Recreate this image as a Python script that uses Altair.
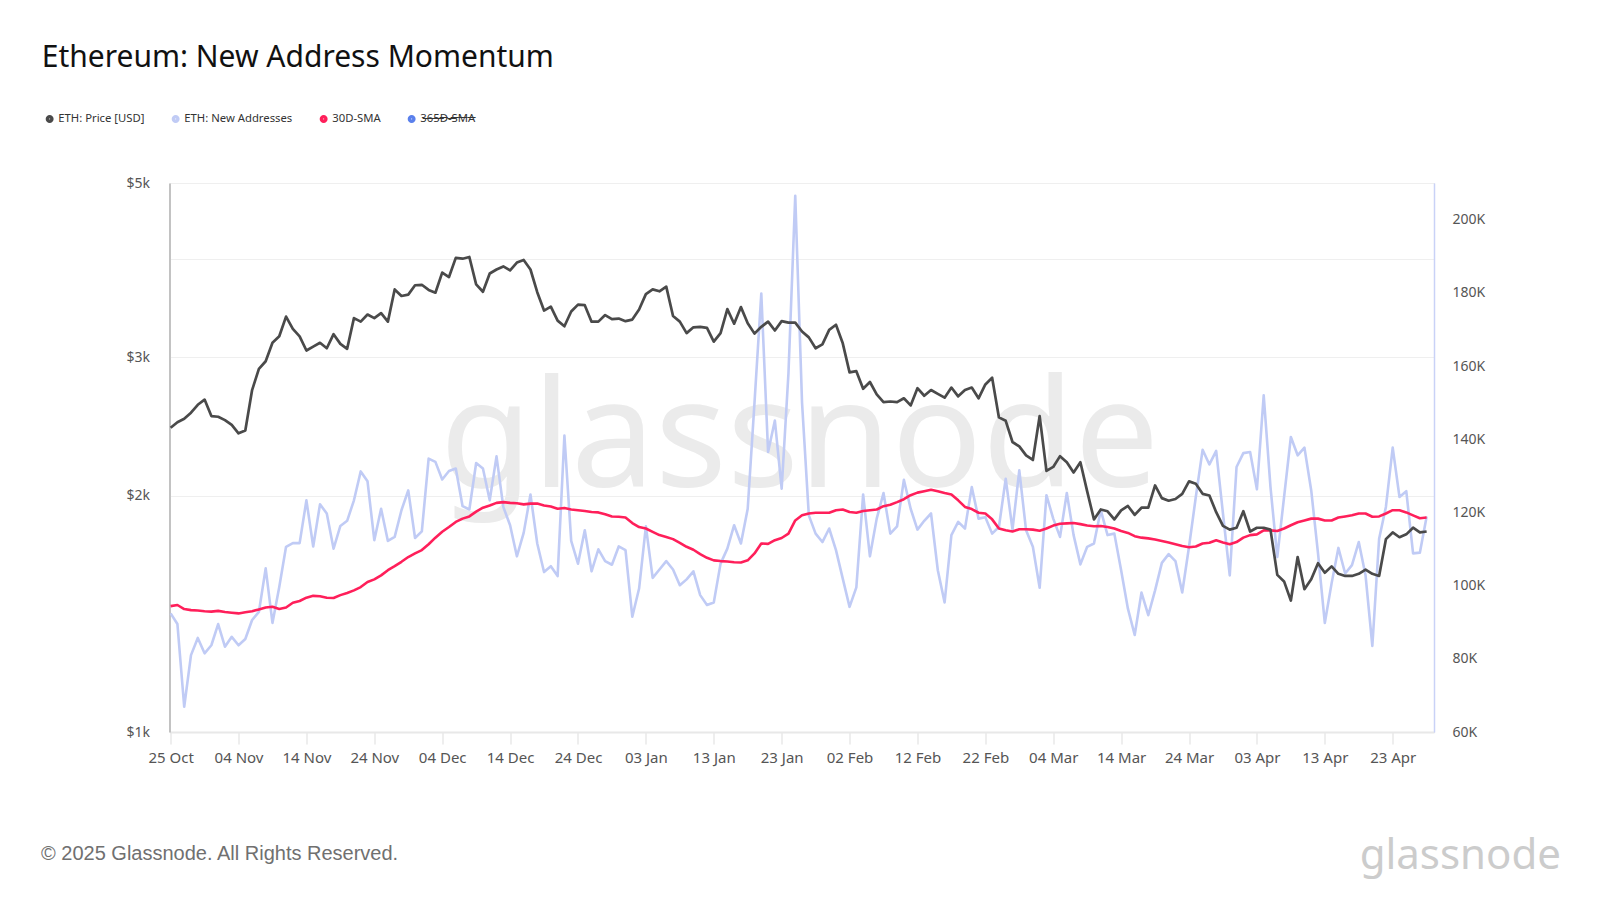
import altair as alt
import pandas as pd

# ---------------- data ----------------
start = pd.Timestamp("2024-10-25")
n_days = 186
dates = [(start + pd.Timedelta(days=i)).strftime("%Y-%m-%d") for i in range(n_days)]

price_usd = [
    2440, 2480, 2505, 2550, 2610, 2650, 2525, 2520, 2495, 2460,
    2400, 2420, 2725, 2900, 2965, 3130, 3190, 3380, 3260, 3190,
    3060, 3095, 3130, 3080, 3210, 3120, 3075, 3365, 3330, 3400,
    3365, 3415, 3330, 3660, 3590, 3605, 3705, 3710, 3655, 3625,
    3845, 3795, 4015, 4005, 4025, 3715, 3635, 3835, 3880, 3915,
    3870, 3960, 3990, 3880, 3630, 3440, 3480, 3340, 3285, 3430,
    3500, 3495, 3330, 3330, 3395, 3355, 3360, 3335, 3350, 3450,
    3610, 3660, 3640, 3690, 3385, 3330, 3220, 3275, 3280, 3270,
    3140, 3220, 3455, 3310, 3475, 3315, 3215, 3280, 3330, 3245,
    3335, 3320, 3320, 3235, 3180, 3080, 3115, 3250, 3300, 3125,
    2870, 2880, 2735, 2790, 2690, 2630, 2635, 2630, 2660, 2605,
    2740, 2680, 2725, 2695, 2665, 2745, 2675, 2725, 2745, 2660,
    2770, 2825, 2515, 2490, 2340, 2310, 2250, 2220, 2525, 2150,
    2175, 2245, 2205, 2140, 2205, 2025, 1865, 1920, 1910, 1865,
    1915, 1940, 1890, 1930, 1930, 2060, 1985, 1970, 1980, 2010,
    2085, 2070, 2010, 2000, 1905, 1830, 1810, 1820, 1910, 1800,
    1820, 1820, 1810, 1585, 1555, 1470, 1670, 1520, 1565, 1640,
    1595, 1625, 1590, 1580, 1580, 1590, 1610, 1590, 1580, 1760,
    1795, 1770, 1785, 1820, 1795, 1800,
]

new_addresses_k = [
    92.4, 89.5, 66.9, 81.0, 85.7, 81.5, 83.7, 89.5, 83.3, 86.0,
    83.7, 85.4, 90.6, 92.8, 104.7, 89.8, 99.6, 110.6, 111.6, 111.6,
    123.3, 110.7, 122.2, 119.7, 110.1, 116.3, 117.7, 123.3, 131.2, 128.5,
    112.4, 121.0, 112.2, 113.3, 120.6, 126.0, 113.0, 114.8, 134.7, 133.8,
    129.0, 131.3, 132.0, 121.7, 120.8, 133.5, 132.0, 123.3, 135.3, 121.5,
    116.5, 108.0, 114.4, 124.9, 111.5, 103.7, 105.3, 102.6, 141.0, 112.2,
    106.0, 115.1, 103.9, 109.9, 106.7, 105.7, 110.7, 109.7, 91.5, 99.2,
    116.2, 102.1, 104.4, 106.7, 104.4, 100.1, 101.7, 103.9, 97.4, 94.7,
    95.4, 106.0, 110.1, 116.5, 111.5, 121.0, 150.0, 179.8, 136.5, 145.1,
    126.5, 158.0, 206.5, 150.0, 119.2, 114.2, 111.9, 115.6, 109.7, 101.9,
    94.2, 99.5, 124.9, 108.0, 118.3, 125.3, 114.2, 116.2, 128.9, 121.0,
    115.3, 117.7, 119.7, 104.2, 95.4, 113.8, 117.4, 115.6, 126.9, 118.3,
    118.7, 114.2, 116.0, 129.2, 115.3, 131.5, 115.1, 110.6, 99.4, 124.7,
    118.3, 113.3, 125.3, 113.8, 105.8, 110.6, 111.5, 120.6, 113.8, 114.2,
    104.2, 93.7, 86.5, 98.1, 91.9, 98.7, 106.2, 108.6, 106.7, 98.1,
    110.6, 124.2, 137.1, 133.1, 136.8, 119.7, 102.8, 132.4, 136.2, 136.5,
    126.3, 152.0, 126.9, 107.8, 124.2, 140.6, 135.6, 137.7, 126.0, 108.8,
    89.8, 100.6, 110.3, 103.3, 105.6, 111.9, 102.8, 83.5, 112.8, 121.5,
    137.7, 124.2, 125.8, 108.8, 109.0, 118.9,
]

sma30_k = [
    94.4, 94.7, 93.6, 93.3, 93.2, 93.0, 92.9, 93.1, 92.8, 92.6,
    92.4, 92.7, 93.0, 93.5, 94.0, 94.2, 93.6, 94.0, 95.3, 95.8,
    96.7, 97.2, 97.1, 96.7, 96.6, 97.4, 98.0, 98.7, 99.6, 101.0,
    101.7, 102.8, 104.2, 105.3, 106.5, 107.8, 108.8, 109.7, 111.3, 113.1,
    114.7, 116.0, 117.4, 118.3, 118.9, 120.2, 121.3, 121.9, 122.6, 122.8,
    122.6, 122.5, 122.2, 122.4, 122.4, 121.9, 121.6, 121.0, 121.2, 120.8,
    120.6, 120.4, 120.1, 120.0, 119.5, 118.9, 118.8, 118.6, 117.1, 116.0,
    115.6, 114.7, 113.8, 113.3, 112.7, 111.7, 110.6, 109.8, 108.6, 107.6,
    106.9, 106.7, 106.6, 106.4, 106.3, 106.9, 108.8, 111.5, 111.4, 112.4,
    113.0, 114.2, 117.8, 119.2, 119.7, 119.9, 119.9, 119.9, 120.6, 120.8,
    120.1, 119.9, 120.4, 120.6, 120.8, 121.7, 122.1, 122.8, 123.6, 124.7,
    125.4, 125.8, 126.2, 125.8, 125.3, 124.9, 123.3, 121.5, 120.9, 119.9,
    119.7, 118.1, 115.6, 115.1, 114.8, 115.4, 115.4, 115.3, 115.0, 115.6,
    116.4, 116.9, 117.0, 117.1, 116.8, 116.4, 116.2, 116.3, 116.0, 115.6,
    114.9, 114.4, 113.5, 113.1, 112.9, 112.6, 112.2, 111.8, 111.3, 110.8,
    110.5, 110.7, 111.5, 111.7, 112.4, 111.8, 111.3, 111.9, 113.1, 113.8,
    114.0, 115.1, 115.1, 114.9, 115.6, 116.5, 117.3, 117.8, 118.3, 118.3,
    117.8, 117.8, 118.6, 118.9, 119.2, 119.7, 119.7, 118.8, 118.9, 119.7,
    120.6, 120.6, 120.0, 119.2, 118.4, 118.6,
]

series_names = ["ETH: Price [USD]", "ETH: New Addresses", "30D-SMA", "365D-SMA"]
series_colors = ["#4a4a4a", "#c0cbf5", "#ff1f5a", "#5a80ec"]

tick_dates = [start + pd.Timedelta(days=10 * k) for k in range(19)]
price_ticks = [1000, 2000, 3000, 4000, 5000]
addr_ticks = [60000, 80000, 100000, 120000, 140000, 160000, 180000, 200000]

# ---------------- tables ----------------
price_df = pd.DataFrame({"date": dates, "value": price_usd, "series": series_names[0]})
addr_df = pd.DataFrame({"date": dates, "value": [v * 1000 for v in new_addresses_k], "series": series_names[1]})
sma_df = pd.DataFrame({"date": dates, "value": [v * 1000 for v in sma30_k], "series": series_names[2]})

FONT = "Noto Sans"
struck = "".join(ch + "\u0336" for ch in "365D-SMA")

def dt(ts, hours=0):
    return alt.DateTime(year=ts.year, month=ts.month, date=ts.day, hours=hours, utc=True)

x_enc = alt.X(
    "date:T",
    scale=alt.Scale(
        type="utc",
        domain=[alt.DateTime(year=2024, month=10, date=24, hours=20, utc=True),
                alt.DateTime(year=2025, month=4, date=29, hours=2, utc=True)],
    ),
    axis=alt.Axis(
        title=None, values=[dt(t) for t in tick_dates],
        labelExpr="utcFormat(datum.value, '%d %b')",
        grid=False, tickSize=12, tickColor="#e8e8e8", tickWidth=1.5,
        domainColor="#e8e8e8", domainWidth=2, labelFont=FONT, labelFontSize=15,
        labelColor="#555555", labelPadding=6, labelFlush=False, labelOverlap=False,
    ),
)

color_enc = alt.Color(
    "series:N",
    scale=alt.Scale(domain=series_names, range=series_colors),
    legend=alt.Legend(
        title=None, orient="none", legendX=-125.5, legendY=-70, direction="horizontal",
        symbolType="circle", symbolSize=12, symbolStrokeWidth=4.5, symbolOpacity=1,
        labelFont=FONT, labelFontSize=11.3, labelColor="#333333", labelOffset=3,
        columnPadding=19, padding=0,
        labelExpr="datum.label == '365D-SMA' ? '" + struck + "' : datum.label",
    ),
)

price_line = alt.Chart(price_df).mark_line(strokeWidth=2.7, strokeJoin="round").encode(
    x=x_enc,
    y=alt.Y(
        "value:Q",
        scale=alt.Scale(type="log", domain=[1000, 5000], nice=False),
        axis=alt.Axis(
            orient="left", title=None, values=price_ticks,
            labelExpr="datum.value == 4000 ? '' : '$' + format(datum.value / 1000, 'd') + 'k'",
            grid=True, gridColor="#efefef", gridWidth=1.2, ticks=False,
            domainColor="#a6a6a6", domainWidth=1.2, labelFont=FONT, labelFontSize=14,
            labelColor="#555555", labelPadding=20,
        ),
    ),
    color=color_enc,
)

right_axis = alt.Axis(
    orient="right", title=None, values=addr_ticks,
    labelExpr="format(datum.value / 1000, 'd') + 'K'",
    grid=False, ticks=False, domainColor="#c9d2f7", domainWidth=1.5,
    labelFont=FONT, labelFontSize=14, labelColor="#555555", labelPadding=18,
)
right_scale = alt.Scale(domain=[60000, 210000], nice=False, zero=False)

addr_line = alt.Chart(addr_df).mark_line(strokeWidth=2.6, strokeJoin="round").encode(
    x=x_enc, y=alt.Y("value:Q", scale=right_scale, axis=right_axis), color=color_enc,
)
sma_line = alt.Chart(sma_df).mark_line(strokeWidth=2.6, strokeJoin="round").encode(
    x=x_enc, y=alt.Y("value:Q", scale=right_scale, axis=right_axis), color=color_enc,
)
right_layer = alt.layer(addr_line, sma_line)

watermark = alt.Chart(pd.DataFrame({"t": ["glassnode"]})).mark_text(
    font=FONT, fontSize=150, color="#ebebeb", align="center", baseline="alphabetic",
).encode(x=alt.value(630), y=alt.value(304), text="t:N")

footer = alt.Chart(pd.DataFrame({"t": ["\u00a9 2025 Glassnode. All Rights Reserved."]})).mark_text(
    font="Liberation Sans", fontSize=20, color="#707070", align="left", baseline="alphabetic",
).encode(x=alt.value(-128.5), y=alt.value(677), text="t:N")

logo = alt.Chart(pd.DataFrame({"t": ["glassnode"]})).mark_text(
    font=FONT, fontSize=42, color="#cccccc", align="right", baseline="alphabetic",
).encode(x=alt.value(1391.5), y=alt.value(686), text="t:N")

chart = alt.layer(
    watermark, right_layer, price_line, footer, logo
).resolve_scale(
    y="independent"
).properties(
    width=1264.5,
    height=549,
    padding={"left": 161.5, "top": 175, "right": 140, "bottom": 150},
    autosize=alt.AutoSizeParams(type="none"),
    title=alt.TitleParams(
        text="Ethereum: New Address Momentum", anchor="start", frame="group",
        font=FONT, fontSize=30, fontWeight="normal", color="#111111",
        dx=-127.8, offset=16, baseline="alphabetic",
    ),
).configure_view(stroke="transparent").configure(background="white")

chart.save("out.html", embed_options={"renderer": "svg", "actions": False})
